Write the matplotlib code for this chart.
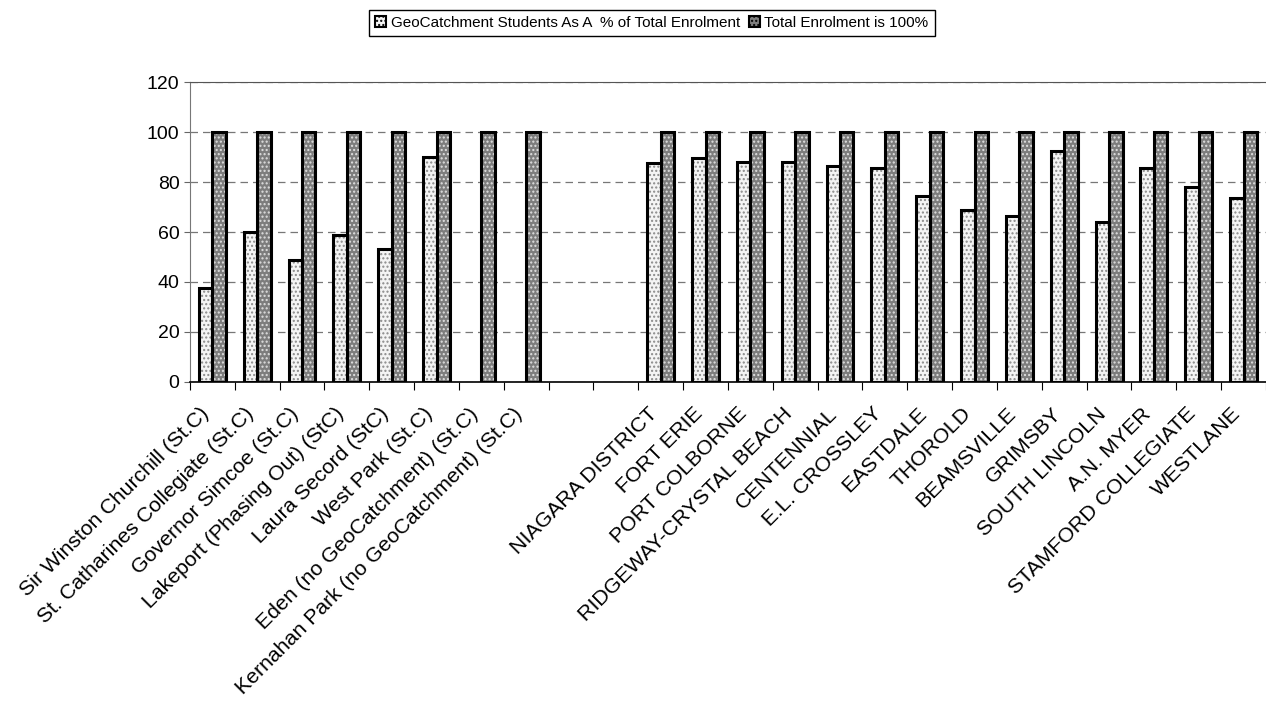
import matplotlib
matplotlib.use("Agg")
import matplotlib.pyplot as plt
import matplotlib.transforms as mtransforms
import numpy as np

plt.rcParams['font.family'] = ['Liberation Sans', 'DejaVu Sans']

schools = ["Sir Winston Churchill (St.C)", "St. Catharines Collegiate (St.C)",
           "Governor Simcoe (St.C)", "Lakeport (Phasing Out) (StC)",
           "Laura Secord (StC)", "West Park (St.C)",
           "Eden (no GeoCatchment) (St.C)", "Kernahan Park (no GeoCatchment) (St.C)",
           "", "",
           "NIAGARA DISTRICT", "FORT ERIE", "PORT COLBORNE", "RIDGEWAY-CRYSTAL BEACH",
           "CENTENNIAL", "E.L. CROSSLEY", "EASTDALE", "THOROLD", "BEAMSVILLE",
           "GRIMSBY", "SOUTH LINCOLN", "A.N. MYER", "STAMFORD COLLEGIATE", "WESTLANE"]

geo_pct = [37.5, 60, 48.8, 59, 53.2, 90.1, None, None,
           None, None,
           87.5, 89.5, 87.9, 88, 86.5, 85.5, 74.3, 68.8, 66.4,
           92.4, 64.1, 85.7, 78, 73.7]

total_pct = [100, 100, 100, 100, 100, 100, 100, 100,
             None, None,
             100, 100, 100, 100, 100, 100, 100, 100, 100,
             100, 100, 100, 100, 100]

geo = np.array(geo_pct, dtype=float)
tot = np.array(total_pct, dtype=float)
x = np.arange(len(schools))
w = 0.3

fig = plt.figure(figsize=(12.66, 7.02), dpi=100)
ax = fig.add_axes([0.150, 0.456, 0.850, 0.427])

# fills with stipple, then black outlines on top
ax.bar(x - w/2, geo, w, color='#f4f4f4', edgecolor='#8a8a8a', hatch='....', linewidth=0, zorder=2)
ax.bar(x + w/2, tot, w, color='#7d7d7d', edgecolor='#e0e0e0', hatch='....', linewidth=0, zorder=2)
ax.bar(x - w/2, geo, w, fill=False, edgecolor='black', linewidth=2.2, zorder=3)
ax.bar(x + w/2, tot, w, fill=False, edgecolor='black', linewidth=2.2, zorder=3)

ax.set_xlim(-0.5, len(schools) - 0.5)
ax.set_ylim(0, 120)
ax.set_yticks(range(0, 121, 20))
ax.tick_params(axis='y', labelsize=14, color='#666666', length=4)

ax.set_xticks(np.arange(-0.5, len(schools), 1))
ax.set_xticklabels([])
ax.set_xticks(x, minor=True)
ax.set_xticklabels(schools, minor=True, rotation=45, ha='right', rotation_mode='anchor', fontsize=15.3)
ax.tick_params(axis='x', which='major', length=6, direction='out', color='black')
ax.tick_params(axis='x', which='minor', length=0, pad=16)
shift = mtransforms.ScaledTranslation(-13/100, 0, fig.dpi_scale_trans)
for lab in ax.get_xticklabels(minor=True):
    lab.set_transform(lab.get_transform() + shift)

ax.yaxis.grid(True, color='#777777', linestyle=(0, (6, 4)), linewidth=0.9)
ax.set_axisbelow(True)
ax.spines['right'].set_visible(False)
ax.spines['top'].set_color('#555555')
ax.spines['left'].set_color('#777777')
ax.spines['bottom'].set_linewidth(1.2)

h1 = plt.Rectangle((0, 0), 1, 1, facecolor='#f4f4f4', edgecolor='black', linewidth=1.5, hatch='....')
h2 = plt.Rectangle((0, 0), 1, 1, facecolor='#7d7d7d', edgecolor='black', linewidth=1.5, hatch='....')
fig.legend([h1, h2], ["GeoCatchment Students As A  % of Total Enrolment", "Total Enrolment is 100%"],
           loc='center', bbox_to_anchor=(0.515, 0.967), ncol=2, fontsize=11,
           frameon=True, fancybox=False, edgecolor='black', framealpha=1,
           handlelength=0.7, handleheight=0.7, handletextpad=0.3, columnspacing=0.6,
           borderpad=0.4)

fig.savefig("out.png", dpi=100)
